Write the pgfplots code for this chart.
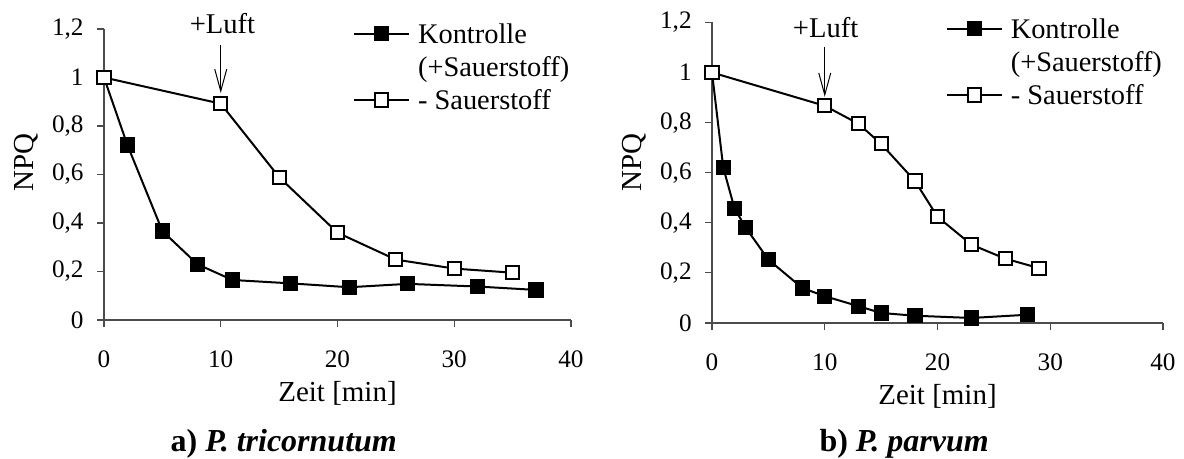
\documentclass[border=0pt]{standalone}
\usepackage{fontspec}
\setmainfont{Liberation Serif}
\usepackage{pgfplots}
\pgfplotsset{compat=1.18}
\usetikzlibrary{arrows.meta}

\newcommand{\lstrut}{\rule[-1.6pt]{0pt}{12.6pt}}
\newcommand{\mstrut}{\rule[-4.4pt]{0pt}{15.4pt}}
\pgfplotsset{
 npqstyle/.style={
  scale only axis,
  anchor=south west,
  xmin=0,xmax=40,ymin=0,ymax=1.2,
  axis lines*=left,
  tick pos=left,
  tick align=outside,
  major tick length=3.5pt,
  axis line style={line width=0.6pt, black!70},
  every tick/.style={line width=0.6pt, black!70},
  xtick={0,10,20,30,40}, xticklabels={0,10,20,30,40},
  ytick={0,0.2,0.4,0.6,0.8,1,1.2},
  yticklabels={0,{0,2},{0,4},{0,6},{0,8},1,{1,2}},
  tick label style={font=\fontsize{12.6}{15}\selectfont},
  xticklabel style={anchor=base, yshift=-20.5pt, inner sep=0pt},
  yticklabel style={anchor=east, xshift=-6.5pt, inner sep=0pt},
  label style={font=\fontsize{14.5}{17}\selectfont},
  xlabel={Zeit [min]},
  ylabel={NPQ},
  clip=false,
  legend cell align=left,
  legend style={draw=none, fill=none, anchor=north west,
    font=\fontsize{14.2}{17}\selectfont, row sep=4.1pt, column sep=4pt, inner sep=0pt,
    nodes={inner sep=0pt}},
  legend image code/.code={\draw[#1, mark repeat=2, mark phase=2] plot coordinates {(0pt,0pt) (13.75pt,0pt) (27.5pt,0pt)};},
 },
 kontr/.style={black, line width=1pt, mark=square*, mark size=3.3pt, mark options={solid, fill=black, line width=1pt}},
 ohne/.style={black, line width=1pt, mark=square*, mark size=3.3pt, mark options={solid, fill=white, line width=1pt}},
}

\begin{document}
\begin{tikzpicture}
\useasboundingbox (0,0) rectangle (592pt,229.5pt);

% ---------- a) P. tricornutum ----------
\begin{axis}[npqstyle,
  at={(52pt,69.5pt)}, width=233.5pt, height=145.5pt,
  xlabel style={at={(axis description cs:0.5,-0.2818)}, anchor=base, inner sep=0pt},
  ylabel style={at={(axis description cs:-0.167,0.54)}, anchor=center, inner sep=0pt},
  legend style={at={(axis cs:21.3,1.234)}},
]
\addplot[kontr] coordinates {
 (0,1.0) (2,0.722) (5,0.367) (8,0.23) (11,0.165) (16,0.151) (21,0.135) (26,0.149) (32,0.138) (37,0.124)};
\addlegendentry{\lstrut Kontrolle}
\addlegendimage{empty legend}
\addlegendentry{\mstrut(+Sauerstoff)}
\addplot[ohne] coordinates {
 (0,1.0) (10,0.892) (15,0.589) (20,0.36) (25,0.249) (30,0.212) (35,0.195)};
\addlegendentry{\lstrut - Sauerstoff}
\node[anchor=base, font=\fontsize{14.3}{17}\selectfont] at (axis cs:10.15,1.18) {+Luft};
\draw[line width=0.5pt, -{Straight Barb[length=11pt,width=6pt]}] (axis cs:10,1.134) -- (axis cs:10,0.936);
\node[anchor=base, font=\fontsize{16}{19}\selectfont\bfseries] at (axis description cs:0.385,-0.4536) {a) \textit{P. tricornutum}};
\end{axis}

% ---------- b) P. parvum ----------
\begin{axis}[npqstyle,
  at={(356pt,68pt)}, width=225.5pt, height=150.3pt,
  xlabel style={at={(axis description cs:0.5,-0.2728)}, anchor=base, inner sep=0pt},
  ylabel style={at={(axis description cs:-0.173,0.535)}, anchor=center, inner sep=0pt},
  legend style={at={(axis cs:20.7,1.227)}},
]
\addplot[kontr] coordinates {
 (0,1.0) (1,0.62) (2,0.457) (3,0.38) (5,0.253) (8,0.14) (10,0.107) (13,0.067) (15,0.04) (18,0.029) (23,0.02) (28,0.033)};
\addlegendentry{\lstrut Kontrolle}
\addlegendimage{empty legend}
\addlegendentry{\mstrut(+Sauerstoff)}
\addplot[ohne] coordinates {
 (0,1.0) (10,0.867) (13,0.795) (15,0.715) (18,0.567) (20,0.424) (23,0.313) (26,0.257) (29,0.219)};
\addlegendentry{\lstrut - Sauerstoff}
\node[anchor=base, font=\fontsize{14.3}{17}\selectfont] at (axis cs:10.08,1.138) {+Luft};
\draw[line width=0.5pt, -{Straight Barb[length=11pt,width=6pt]}] (axis cs:10,1.103) -- (axis cs:10,0.903);
\node[anchor=base, font=\fontsize{16}{19}\selectfont\bfseries] at (axis description cs:0.426,-0.429) {b) \textit{P. parvum}};
\end{axis}
\end{tikzpicture}
\end{document}
